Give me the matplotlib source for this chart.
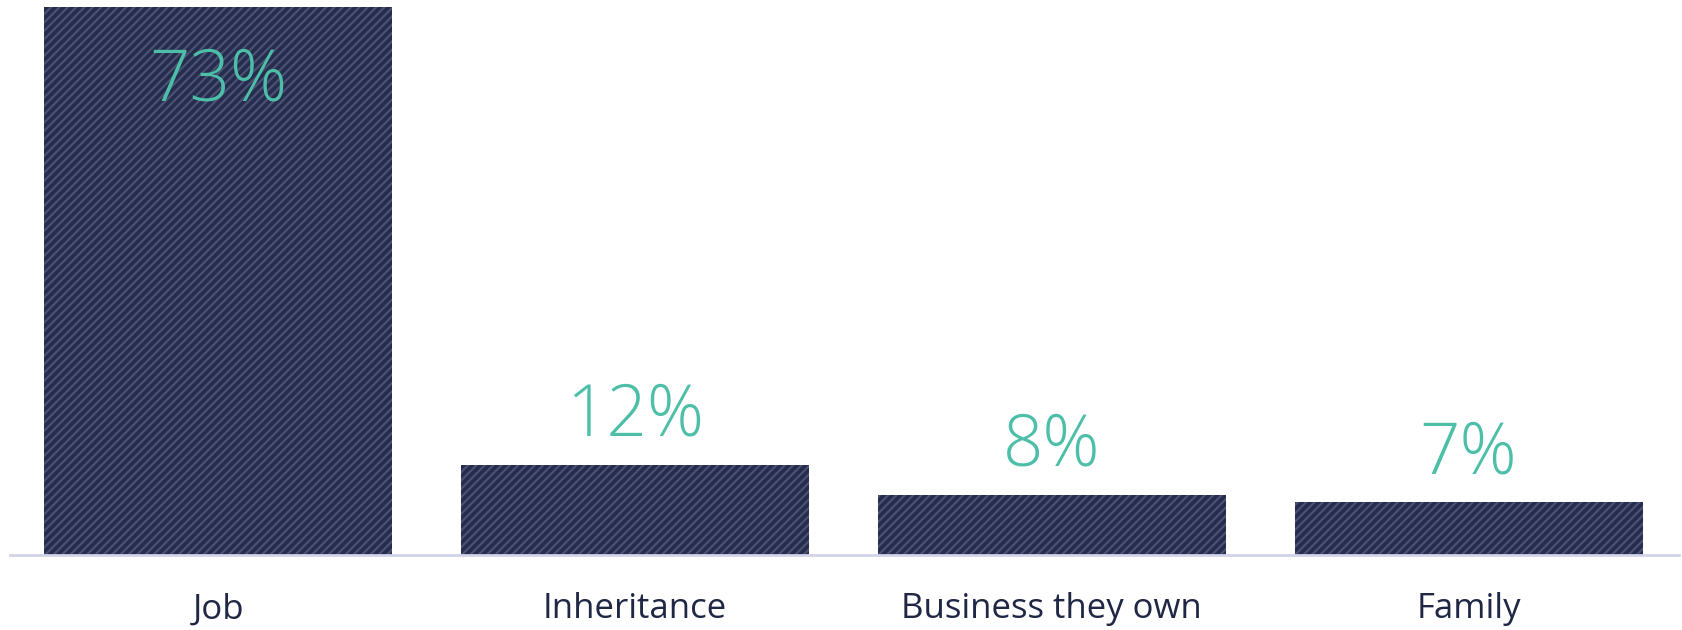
import numpy as np
import matplotlib.pyplot as plt

# Sources of wealth
categories = ['Job', 'Inheritance', 'Business they own', 'Family']
values = [73, 12, 8, 7]
labels = ['73%', '12%', '8%', '7%']

plt.rcParams['hatch.linewidth'] = 1.6
plt.rcParams['font.family'] = ['Open Sans', 'DejaVu Sans']

fig = plt.figure(figsize=(16.83, 6.30), dpi=100)
ax = fig.add_axes([10/1683, 75/630, 1669/1683, 548/630])

x = np.arange(len(categories))
bars = ax.bar(x, values, width=0.835, color='#262d4c', edgecolor='#4a5174',
              hatch='////', linewidth=0)

ymax = 73
for b, v, lab in zip(bars, values, labels):
    cx = b.get_x() + b.get_width() / 2
    if v > ymax - 10:
        # no room above the tallest bar, put it inside
        ax.text(cx, 60.6, lab, ha='center', va='baseline', fontsize=51,
                fontweight='light', color='#4dbfa8')
    else:
        ax.annotate(lab, (cx, v), xytext=(0, 21), textcoords='offset points',
                    ha='center', va='baseline', fontsize=51,
                    fontweight='light', color='#4dbfa8')

ax.set_xlim(-0.5, 3.505)
ax.set_ylim(0, ymax)
ax.set_xticks(x)
ax.set_xticklabels(categories, fontsize=25, color='#1f2745')
ax.tick_params(axis='x', length=0, pad=27)
ax.set_yticks([])
for s in ['top', 'left', 'right']:
    ax.spines[s].set_visible(False)
ax.spines['bottom'].set_color('#d3d3ea')
ax.spines['bottom'].set_linewidth(2)

fig.savefig('out.png', dpi=100)
